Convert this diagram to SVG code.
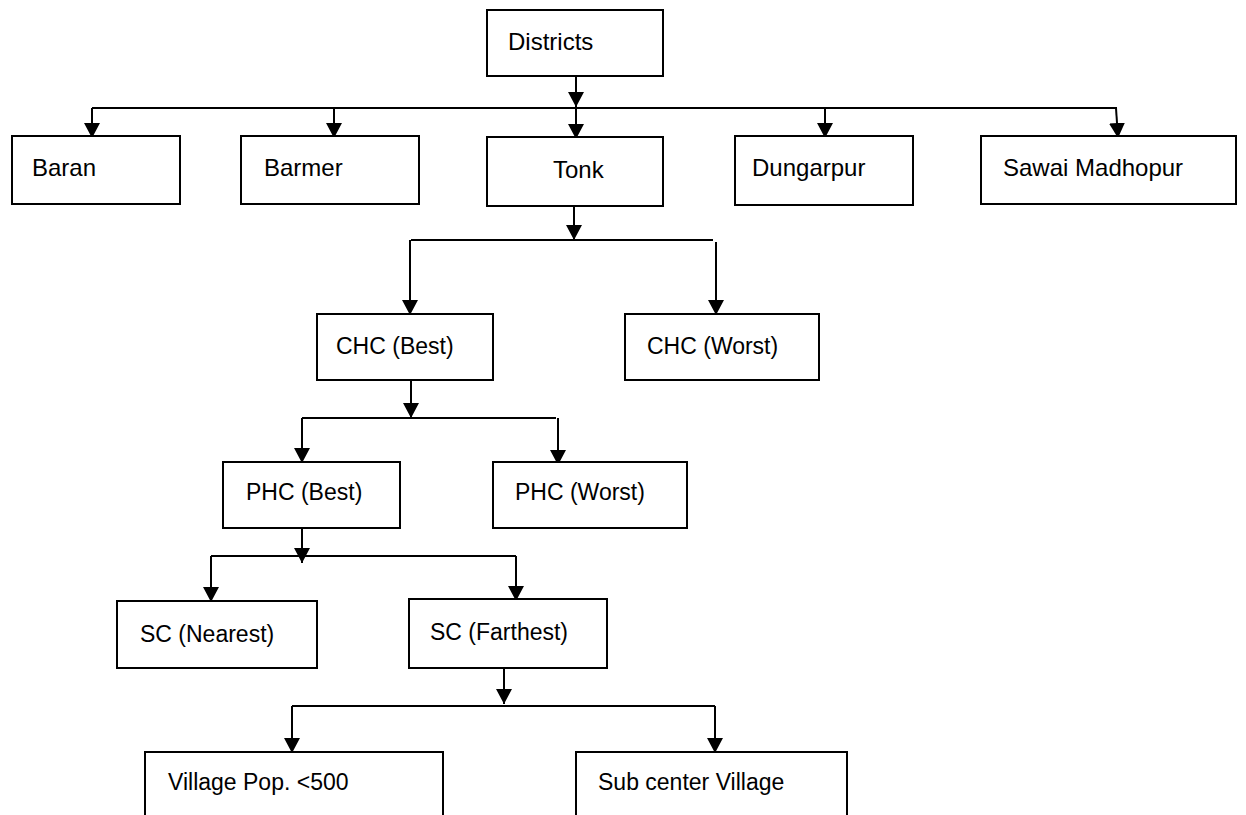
<svg xmlns="http://www.w3.org/2000/svg" width="1246" height="815" viewBox="0 0 1246 815">
<defs>
<style>
.box{fill:#fff;stroke:#000;stroke-width:2}
.t{font-family:"Liberation Sans",Arial,sans-serif;font-size:24px;fill:#000}
.s{font-size:23px}
.ln{fill:none;stroke:#000;stroke-width:2}
</style>
<marker id="ah" markerUnits="userSpaceOnUse" markerWidth="16" markerHeight="16" refX="15" refY="8" orient="auto">
<path d="M0,0 L15,8 L0,16 z" fill="#000"/>
</marker>
</defs>
<rect width="1246" height="815" fill="#fff"/>
<g id="connectors">
<line class="ln" x1="576" y1="76" x2="576" y2="107" marker-end="url(#ah)"/>
<line class="ln" x1="92" y1="108" x2="1117" y2="108"/>
<line class="ln" x1="92" y1="108" x2="92" y2="138" marker-end="url(#ah)"/>
<line class="ln" x1="334" y1="108" x2="334" y2="138" marker-end="url(#ah)"/>
<line class="ln" x1="576" y1="108" x2="576" y2="139" marker-end="url(#ah)"/>
<line class="ln" x1="825" y1="108" x2="825" y2="138" marker-end="url(#ah)"/>
<line class="ln" x1="1116" y1="108" x2="1118" y2="138" marker-end="url(#ah)"/>
<line class="ln" x1="574" y1="206" x2="574" y2="240" marker-end="url(#ah)"/>
<line class="ln" x1="411" y1="240" x2="713" y2="240"/>
<line class="ln" x1="410" y1="240" x2="410" y2="315" marker-end="url(#ah)"/>
<line class="ln" x1="716" y1="242" x2="716" y2="315" marker-end="url(#ah)"/>
<line class="ln" x1="411" y1="380" x2="411" y2="418" marker-end="url(#ah)"/>
<line class="ln" x1="302" y1="418" x2="556" y2="418"/>
<line class="ln" x1="302" y1="418" x2="302" y2="463" marker-end="url(#ah)"/>
<line class="ln" x1="558" y1="418" x2="558" y2="465" marker-end="url(#ah)"/>
<line class="ln" x1="302" y1="528" x2="302" y2="563" marker-end="url(#ah)"/>
<line class="ln" x1="211" y1="556" x2="516" y2="556"/>
<line class="ln" x1="211" y1="556" x2="211" y2="602" marker-end="url(#ah)"/>
<line class="ln" x1="516" y1="556" x2="516" y2="601" marker-end="url(#ah)"/>
<line class="ln" x1="504" y1="668" x2="504" y2="704" marker-end="url(#ah)"/>
<line class="ln" x1="292" y1="706" x2="715" y2="706"/>
<line class="ln" x1="292" y1="706" x2="292" y2="753" marker-end="url(#ah)"/>
<line class="ln" x1="715" y1="706" x2="715" y2="753" marker-end="url(#ah)"/>
</g>
<g id="districts"><rect class="box" x="487" y="10" width="176" height="66"/><text class="t" x="508" y="50">Districts</text></g>
<g id="baran"><rect class="box" x="12" y="136" width="168" height="68"/><text class="t" x="32" y="176">Baran</text></g>
<g id="barmer"><rect class="box" x="241" y="136" width="178" height="68"/><text class="t" x="264" y="176">Barmer</text></g>
<g id="tonk"><rect class="box" x="487" y="137" width="176" height="69"/><text class="t" x="553" y="178">Tonk</text></g>
<g id="dungarpur"><rect class="box" x="735" y="136" width="178" height="69"/><text class="t" x="752" y="176">Dungarpur</text></g>
<g id="sawai"><rect class="box" x="981" y="136" width="255" height="68"/><text class="t" x="1003" y="176">Sawai Madhopur</text></g>
<g id="chc-best"><rect class="box" x="317" y="314" width="176" height="66"/><text class="t s" x="336" y="354">CHC (Best)</text></g>
<g id="chc-worst"><rect class="box" x="625" y="314" width="194" height="66"/><text class="t s" x="647" y="354">CHC (Worst)</text></g>
<g id="phc-best"><rect class="box" x="223" y="462" width="177" height="66"/><text class="t s" x="246" y="500">PHC (Best)</text></g>
<g id="phc-worst"><rect class="box" x="493" y="462" width="194" height="66"/><text class="t s" x="515" y="500">PHC (Worst)</text></g>
<g id="sc-nearest"><rect class="box" x="117" y="601" width="200" height="67"/><text class="t s" x="140" y="642">SC (Nearest)</text></g>
<g id="sc-farthest"><rect class="box" x="409" y="599" width="198" height="69"/><text class="t s" x="430" y="640">SC (Farthest)</text></g>
<g id="village-pop"><rect class="box" x="145" y="752" width="298" height="80"/><text class="t s" x="168" y="790">Village Pop. &lt;500</text></g>
<g id="subcenter-village"><rect class="box" x="576" y="752" width="271" height="80"/><text class="t s" x="598" y="790">Sub center Village</text></g>
</svg>
